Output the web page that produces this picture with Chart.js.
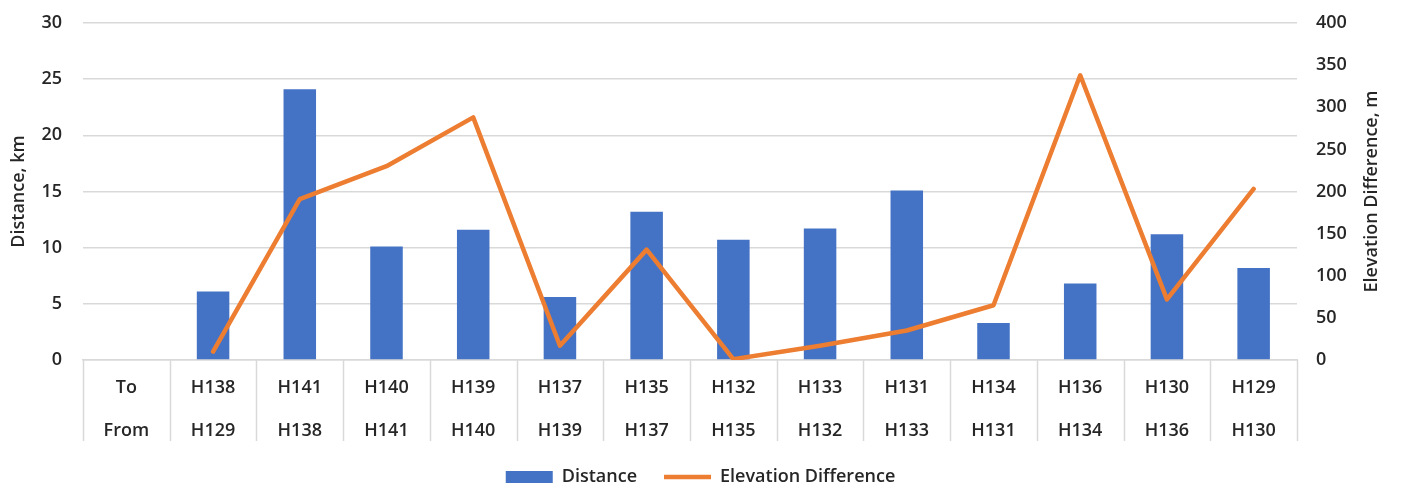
<!DOCTYPE html>
<html>
<head>
<meta charset="utf-8">
<script src="https://cdn.jsdelivr.net/npm/chart.js@4/dist/chart.umd.min.js"></script>
<style>
  html, body { margin: 0; padding: 0; background: #fff; }
  #wrap { width: 1401px; height: 484px; }
</style>
</head>
<body>
<div id="wrap"><canvas id="chart" width="1401" height="484"></canvas></div>
<script>
const toStops = ['To', 'H138', 'H141', 'H140', 'H139', 'H137', 'H135', 'H132', 'H133', 'H131', 'H134', 'H136', 'H130', 'H129'];
const fromStops = ['From', 'H129', 'H138', 'H141', 'H140', 'H139', 'H137', 'H135', 'H132', 'H133', 'H131', 'H134', 'H136', 'H130'];
const distanceKm = [null, 6.1, 24.1, 10.1, 11.6, 5.6, 13.2, 10.7, 11.7, 15.1, 3.3, 6.8, 11.2, 8.2];
const elevationM = [null, 10, 191, 230, 288, 17, 131, 1, 17, 35, 65, 338, 72, 203];

const BLUE = '#4472C4';
const ORANGE = '#ED7D31';
const GRID = '#d9d9d9';
const TEXT = '#262626';
const FONT = { family: 'Open Sans', size: 18, weight: '600' };

const labels = toStops.map((t, i) => [t, fromStops[i]]);

// table lines under the category axis and the right title (reads bottom to top)
const tableAndTitle = {
  id: 'tableAndTitle',
  afterDraw(chart) {
    const ctx = chart.ctx;
    const x = chart.scales.x;
    const area = chart.chartArea;
    ctx.save();
    ctx.strokeStyle = GRID;
    ctx.lineWidth = 1.5;
    ctx.beginPath();
    for (let i = 0; i <= labels.length; i++) {
      const px = Math.round(x.getPixelForValue(i - 0.5)) + 0.5;
      ctx.moveTo(px, area.bottom);
      ctx.lineTo(px, x.bottom);
    }
    ctx.stroke();

    const y1 = chart.scales.y1;
    ctx.translate(y1.left + 75, (area.top + area.bottom) / 2);
    ctx.rotate(-Math.PI / 2);
    ctx.font = '600 18px "Open Sans"';
    ctx.fillStyle = TEXT;
    ctx.textAlign = 'center';
    ctx.textBaseline = 'middle';
    ctx.fillText('Elevation Difference, m', 0, 0);
    ctx.restore();
  }
};

function fixY(width) {
  return function(scale) {
    scale.width = width;
    scale.paddingTop = 0;
    scale.paddingBottom = 0;
  };
}

new Chart(document.getElementById('chart'), {
  type: 'bar',
  data: {
    labels: labels,
    datasets: [
      {
        type: 'line',
        label: 'Elevation Difference',
        data: elevationM,
        yAxisID: 'y1',
        borderColor: ORANGE,
        backgroundColor: ORANGE,
        borderWidth: 4.5,
        borderCapStyle: 'round',
        borderJoinStyle: 'round',
        pointRadius: 0,
        pointStyle: 'line',
        tension: 0,
        order: 0
      },
      {
        label: 'Distance',
        data: distanceKm,
        yAxisID: 'y',
        backgroundColor: BLUE,
        borderWidth: 0,
        barPercentage: 0.375,
        categoryPercentage: 1,
        pointStyle: 'rect',
        order: 1
      }
    ]
  },
  options: {
    responsive: false,
    animation: false,
    layout: { padding: { top: 23, right: 0, left: 0, bottom: -12 } },
    plugins: {
      tooltip: { enabled: false },
      legend: {
        position: 'bottom',
        reverse: true,
        labels: {
          usePointStyle: true,
          pointStyleWidth: 47,
          boxHeight: 12,
          padding: 27,
          color: TEXT,
          font: FONT
        }
      }
    },
    scales: {
      x: {
        offset: true,
        grid: { display: false },
        border: { display: true, color: GRID, width: 1.5 },
        ticks: {
          color: TEXT,
          font: { family: 'Open Sans', size: 18, weight: '600', lineHeight: 2.39 },
          padding: -2,
          maxRotation: 0,
          autoSkip: false
        },
        afterFit(scale) { scale.height = 81; }
      },
      y: {
        position: 'left',
        min: 0,
        max: 30,
        ticks: { stepSize: 5, color: TEXT, font: FONT, padding: 21 },
        grid: { color: GRID, lineWidth: 1.5, drawTicks: false },
        border: { display: false },
        title: { display: true, text: 'Distance, km', color: TEXT, font: FONT, padding: 8 },
        afterFit: fixY(83)
      },
      y1: {
        position: 'right',
        min: 0,
        max: 400,
        ticks: { stepSize: 50, color: TEXT, font: FONT, padding: 19 },
        grid: { drawOnChartArea: false, drawTicks: false },
        border: { display: false },
        afterFit: fixY(104)
      }
    }
  },
  plugins: [tableAndTitle]
});
</script>
</body>
</html>
